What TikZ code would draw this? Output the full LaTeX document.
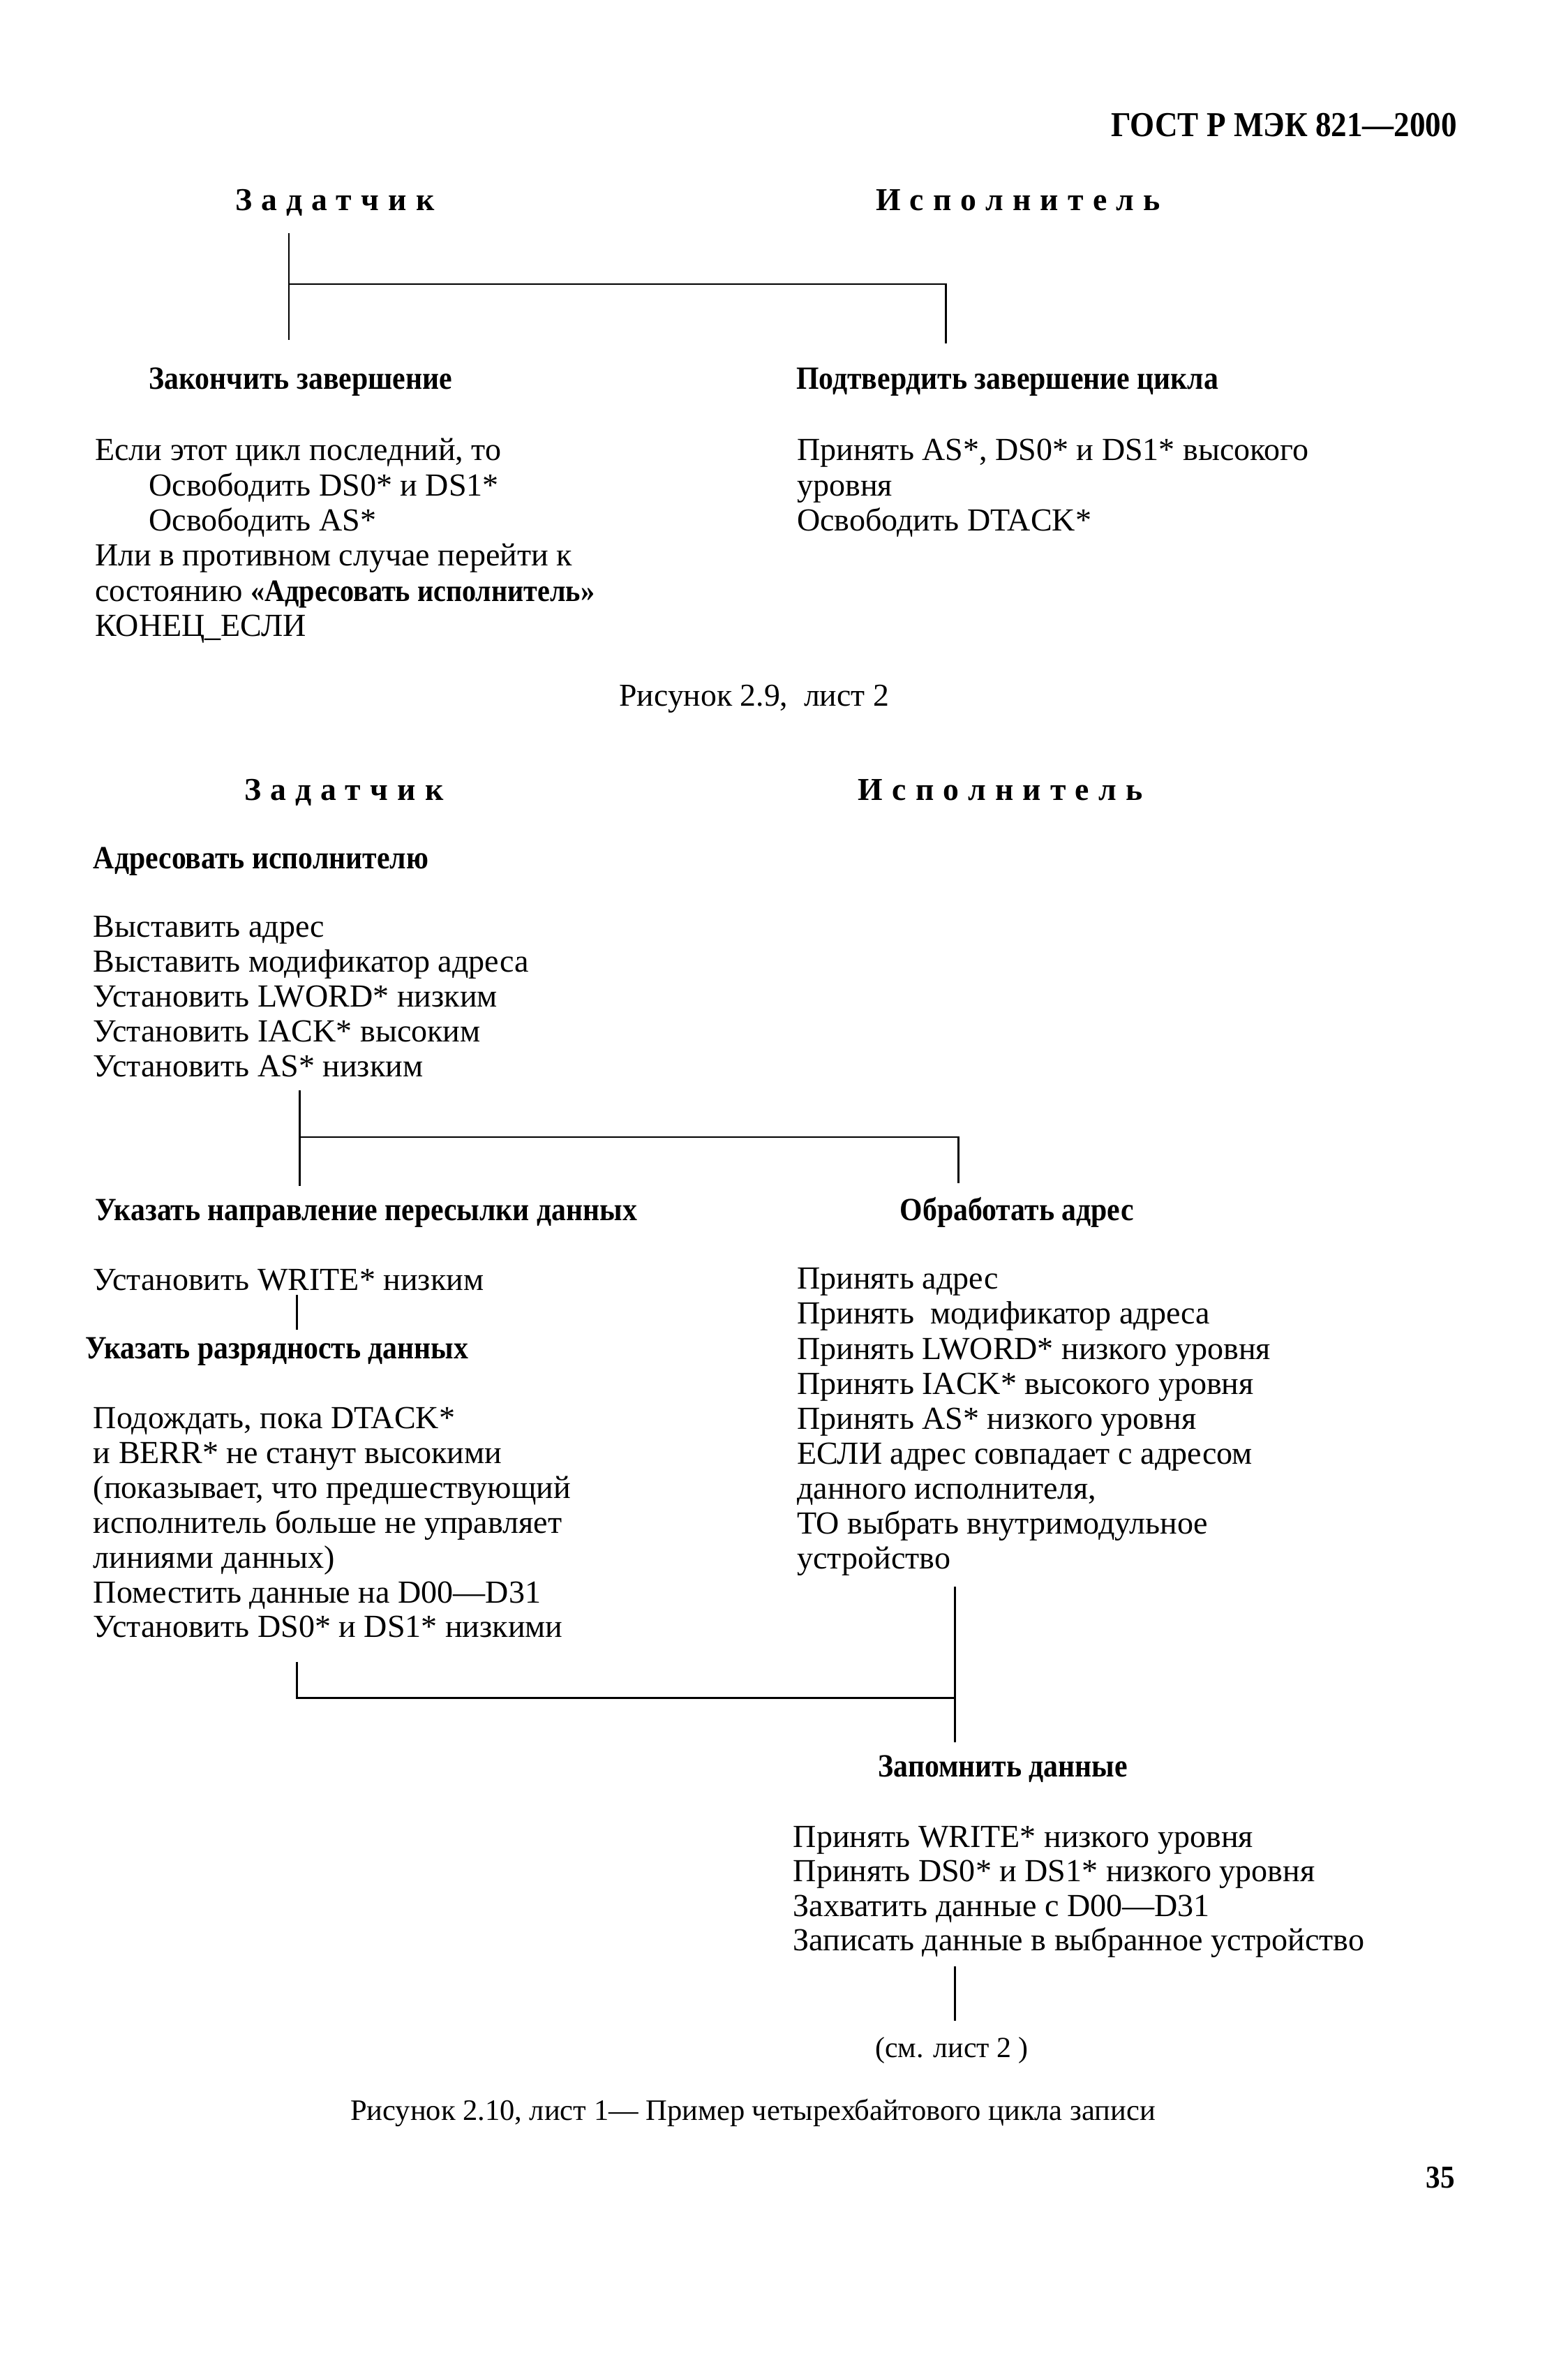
\documentclass[tikz,border=0pt]{standalone}
\usepackage{fontspec}
\setmainfont{Liberation Serif}[BoldFeatures={FakeStretch=0.9}]
\newfontface\spacedbf[LetterSpace=29]{Liberation Serif Bold}
\begin{document}
\begin{tikzpicture}[x=0.0217cm,y=-0.0217cm,
  txt/.style={anchor=base west,inner sep=0pt,font=\fontsize{13.1}{14}\selectfont},
  hd/.style={anchor=base west,inner sep=0pt,font=\fontsize{13.2}{14}\selectfont\bfseries},
  sp/.style={anchor=base west,inner sep=0pt,font=\fontsize{13}{14}\selectfont\spacedbf},
  wire/.style={line width=0.7pt}]
\path[use as bounding box,fill=white] (0,0) rectangle (1035,1567.2);

% header
\node[anchor=base east,inner sep=0pt,font=\fontsize{14.25}{16}\selectfont\bfseries] (hdr) at (962.5,90) {ГОСТ Р МЭК 821—2000};

% ---------- part 1 ----------
\node[sp] (z1) at (155,139) {Задатчик};
\node[sp] (i1) at (578,139) {Исполнитель};
\coordinate (c1t) at (190.8,154);
\coordinate (c1m) at (190.8,187.6);
\coordinate (c1b) at (190.8,224.4);
\coordinate (c1r) at (624.6,187.6);
\coordinate (c1rb) at (624.6,226.7);
\draw[wire] (c1t) -- (c1b);
\draw[wire] (c1m) -- (c1r) -- (c1rb);

\node[hd] (zak) at (98,257) {Закончить завершение};
\node[hd] (podt) at (525.5,257) {Подтвердить завершение цикла};

\node[txt] (l1) at (62.5,304) {Если этот цикл последний, то};
\node[txt] (l2) at (98,327.2) {Освободить DS0* и DS1*};
\node[txt] (l3) at (98,350.4) {Освободить AS*};
\node[txt] (l4) at (62.5,373.6) {Или в противном случае перейти к};
\node[txt] (l5) at (62.5,396.8) {состоянию {\fontsize{12.7}{14}\selectfont\bfseries «Адресовать исполнитель»}};
\node[txt] (l6) at (62.5,420) {КОНЕЦ\_ЕСЛИ};

\node[txt] (r1) at (526,304) {Принять AS*, DS0* и DS1* высокого};
\node[txt] (r2) at (526,327.2) {уровня};
\node[txt] (r3) at (526,350.4) {Освободить DTACK*};

\node[anchor=base,inner sep=0pt,font=\fontsize{13}{14}\selectfont] (cap1) at (498,466) {Рисунок 2.9,\ \ лист 2};

% ---------- part 2 ----------
\node[sp] (z2) at (161,528.5) {Задатчик};
\node[sp] (i2) at (566.4,528.5) {Исполнитель};

\node[hd] (adr) at (61.4,573.5) {Адресовать исполнителю};
\node[txt] (a1) at (61.4,618.5) {Выставить адрес};
\node[txt] (a2) at (61.4,641.6) {Выставить модификатор адреса};
\node[txt] (a3) at (61.4,664.7) {Установить LWORD* низким};
\node[txt] (a4) at (61.4,687.8) {Установить IACK* высоким};
\node[txt] (a5) at (61.4,710.9) {Установить AS* низким};

\coordinate (c2t) at (198,720);
\coordinate (c2m) at (198,750.7);
\coordinate (c2b) at (198,783);
\coordinate (c2r) at (633,750.7);
\coordinate (c2rb) at (633,781);
\draw[wire] (c2t) -- (c2b);
\draw[wire] (c2m) -- (c2r) -- (c2rb);

\node[hd] (ukn) at (62.7,805.5) {Указать направление пересылки данных};
\node[hd] (obr) at (594,805.5) {Обработать адрес};

\node[txt] (w1) at (61.4,851.6) {Установить WRITE* низким};
\coordinate (c3t) at (196,854.8);
\coordinate (c3b) at (196,877.9);
\draw[wire] (c3t) -- (c3b);
\node[hd] (ukr) at (56,897) {Указать разрядность данных};

\node[txt] (b1) at (61.4,943) {Подождать, пока DTACK*};
\node[txt] (b2) at (61.4,966) {и BERR* не станут высокими};
\node[txt] (b3) at (61.4,989) {(показывает, что предшествующий};
\node[txt] (b4) at (61.4,1012) {исполнитель больше не управляет};
\node[txt] (b5) at (61.4,1035) {линиями данных)};
\node[txt] (b6) at (61.4,1058) {Поместить данные на D00—D31};
\node[txt] (b7) at (61.4,1081) {Установить DS0* и DS1* низкими};

\node[txt] (p1) at (526,851) {Принять адрес};
\node[txt] (p2) at (526,874.1) {Принять\ \ модификатор адреса};
\node[txt] (p3) at (526,897.2) {Принять LWORD* низкого уровня};
\node[txt] (p4) at (526,920.3) {Принять IACK* высокого уровня};
\node[txt] (p5) at (526,943.4) {Принять AS* низкого уровня};
\node[txt] (p6) at (526,966.5) {ЕСЛИ адрес совпадает с адресом};
\node[txt] (p7) at (526,989.6) {данного исполнителя,};
\node[txt] (p8) at (526,1012.7) {ТО выбрать внутримодульное};
\node[txt] (p9) at (526,1035.8) {устройство};

\coordinate (c4t) at (630.5,1047.5);
\coordinate (c4m) at (630.5,1121);
\coordinate (c4b) at (630.5,1150);
\coordinate (c4l) at (196,1121);
\coordinate (c4lt) at (196,1097);
\draw[wire] (c4t) -- (c4b);
\draw[wire] (c4lt) -- (c4l) -- (c4m);

\node[hd] (zap) at (579.7,1173) {Запомнить данные};
\node[txt] (q1) at (523.5,1219.5) {Принять WRITE* низкого уровня};
\node[txt] (q2) at (523.5,1242.3) {Принять DS0* и DS1* низкого уровня};
\node[txt] (q3) at (523.5,1265.1) {Захватить данные с D00—D31};
\node[txt] (q4) at (523.5,1287.9) {Записать данные в выбранное устройство};

\coordinate (c5t) at (630.5,1298);
\coordinate (c5b) at (630.5,1334);
\draw[wire] (c5t) -- (c5b);

\node[anchor=base west,inner sep=0pt,font=\fontsize{11.9}{14}\selectfont] (see) at (577.7,1358.4) {(см. лист 2 )};
\node[anchor=base west,inner sep=0pt,font=\fontsize{12.1}{14}\selectfont] (cap2) at (231,1399.6) {Рисунок 2.10, лист 1— Пример четырехбайтового цикла записи};
\node[anchor=base east,inner sep=0pt,font=\fontsize{13}{14}\selectfont\bfseries] (pg) at (961,1444.5) {35};
\end{tikzpicture}
\end{document}
